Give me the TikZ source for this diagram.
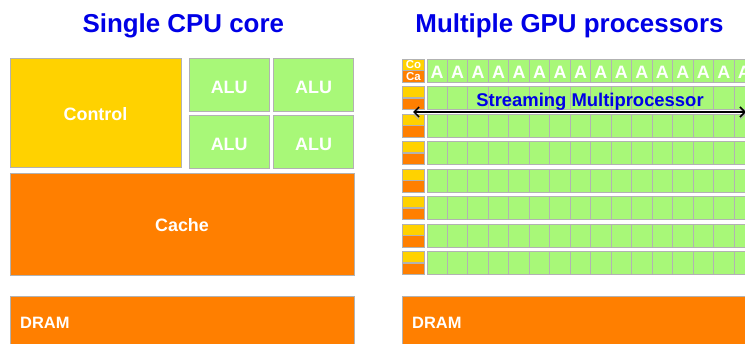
\documentclass[tikz,border=0pt]{standalone}
\usepackage{fontspec}
\setmainfont{Liberation Sans}
\usetikzlibrary{arrows.meta}
\definecolor{ctrlY}{RGB}{255,210,0}
\definecolor{cacheO}{RGB}{255,127,0}
\definecolor{aluG}{RGB}{168,248,120}
\definecolor{edgeG}{RGB}{178,178,178}
\definecolor{titleB}{RGB}{0,0,230}
\begin{document}
\begin{tikzpicture}[x=1bp,y=-1bp,
  box/.style={draw=edgeG, line width=0.9bp, inner sep=0pt, outer sep=0pt, anchor=north west},
  wlbl/.style={text=white, font=\fontsize{18}{18}\selectfont\bfseries, inner sep=0pt, anchor=base},
  smalllbl/.style={text=white, font=\fontsize{11.5}{11.5}\selectfont\bfseries, inner sep=0pt, anchor=base},
  ttl/.style={text=titleB, font=\fontsize{26}{26}\selectfont\bfseries, inner sep=0pt, anchor=base},
  smlbl/.style={text=titleB, font=\fontsize{18.5}{18.5}\selectfont\bfseries, inner sep=0pt, anchor=base},
  barbs/.style={{Straight Barb[length=5bp,width=10bp]}-{Straight Barb[length=5bp,width=10bp]}}]
\useasboundingbox (0,0) rectangle (745,343);
\clip (0,0) rectangle (745,343);
% titles
\node[ttl] (tcpu) at (183.3,32) {Single CPU core};
\node[ttl] (tgpu) at (569.5,32) {Multiple GPU processors};
% CPU
\node[box, fill=ctrlY, minimum width=171bp, minimum height=109bp] (ctrl) at (10,58.3) {};
\node[wlbl] (ctrltxt) at (95.5,120) {Control};
\node[box, fill=aluG, minimum width=80.5bp, minimum height=53.4bp] (alu1) at (189,58.3) {};
\node[box, fill=aluG, minimum width=80.5bp, minimum height=53.4bp] (alu2) at (273.3,58.3) {};
\node[box, fill=aluG, minimum width=80.5bp, minimum height=53.4bp] (alu3) at (189,115.3) {};
\node[box, fill=aluG, minimum width=80.5bp, minimum height=53.4bp] (alu4) at (273.3,115.3) {};
\node[wlbl] (alu1t) at (229.2,93.3) {ALU};
\node[wlbl] (alu2t) at (313.6,93.3) {ALU};
\node[wlbl] (alu3t) at (229.2,150) {ALU};
\node[wlbl] (alu4t) at (313.6,150) {ALU};
\node[box, fill=cacheO, minimum width=344bp, minimum height=102.4bp] (cache) at (10,173.3) {};
\node[wlbl] (cachet) at (182,231.7) {Cache};
\node[box, fill=cacheO, minimum width=344bp, minimum height=70bp] (dramL) at (10,296) {};
\node[wlbl, anchor=base west, font=\fontsize{16.5}{16.5}\selectfont\bfseries] (dramLt) at (20,328.3) {DRAM};
% GPU
\foreach \r in {1,...,8}{
  \pgfmathsetmacro{\ty}{59+27.5*(\r-1)}
  \node[box, fill=ctrlY, minimum width=22.2bp, minimum height=11.2bp] (co\r) at (402.4,\ty) {};
  \node[box, fill=cacheO, minimum width=22.2bp, minimum height=11.2bp] (ca\r) at (402.4,\ty+11.8) {};
  \foreach \c in {0,...,15}{
    \node[box, fill=aluG, minimum width=20.47bp, minimum height=23bp] (sp\r-\c) at ({427+20.47*\c},\ty) {};
  }
}
\node[smalllbl] (cot) at (413.5,68.3) {Co};
\node[smalllbl] (cat) at (413.5,80) {Ca};
\foreach \c in {0,...,15}{
  \node[wlbl] (a\c) at ({437.2+20.47*\c},78.3) {A};
}
\node[box, fill=cacheO, minimum width=360bp, minimum height=70bp] (dramR) at (402,296.5) {};
\node[wlbl, anchor=base west, font=\fontsize{16.5}{16.5}\selectfont\bfseries] (dramRt) at (412,328.3) {DRAM};
% streaming multiprocessor arrow (with drop shadow)
\coordinate (smL) at (413,112);
\coordinate (smR) at (746,112);
\draw[white, line width=4bp] (smL) -- (smR);
\draw[edgeG, line width=1.2bp, barbs, transform canvas={yshift=-2.2bp}] (smL) -- (smR);
\draw[white, line width=1.2bp, transform canvas={yshift=-1.2bp}] (smL) -- (smR);
\draw[black, line width=1.5bp, barbs] (smL) -- (smR);
\node[smlbl] (smt) at (590,106) {Streaming Multiprocessor};
\end{tikzpicture}
\end{document}
